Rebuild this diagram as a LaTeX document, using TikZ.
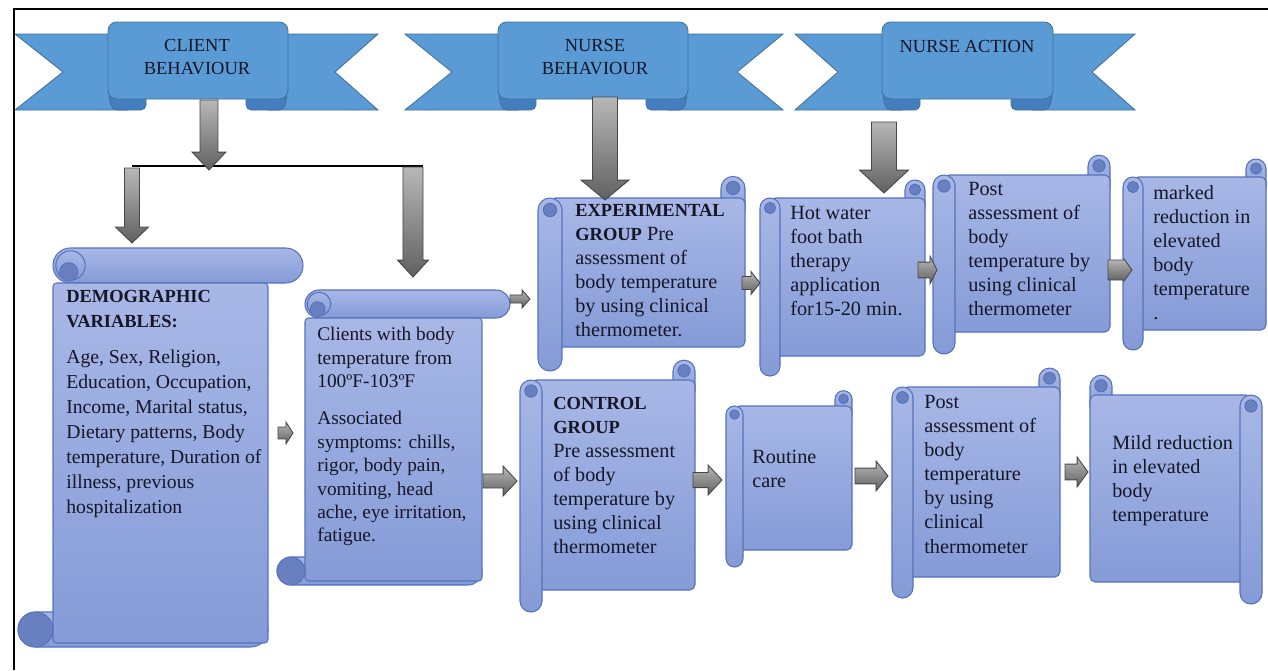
\documentclass[tikz,border=0pt]{standalone}
\usepackage{fontspec}
\setmainfont{Liberation Serif}
\usetikzlibrary{calc}

\definecolor{ribbonblue}{RGB}{91,155,213}
\definecolor{ribbonfold}{RGB}{68,126,190}
\definecolor{ribbonedge}{RGB}{65,113,156}
\definecolor{scrolltop}{RGB}{168,183,230}
\definecolor{scrollbot}{RGB}{133,155,215}
\definecolor{scrolledge}{RGB}{84,114,188}
\definecolor{curlfill}{RGB}{104,128,192}
\definecolor{ink}{RGB}{22,22,38}

\tikzset{
    scroll/.style={draw=scrolledge, line width=0.6pt, top color=scrolltop, bottom color=scrollbot},
    curl/.style={draw=scrolledge, line width=0.5pt, fill=curlfill},
    ribbon/.style={draw=ribbonedge, line width=0.5pt, fill=ribbonblue},
    fold/.style={draw=ribbonedge, line width=0.5pt, fill=ribbonfold},
    txt/.style={anchor=north west, align=left, inner sep=0pt, text=ink, font=\fontsize{11.5}{13.7}\selectfont},
    head/.style={align=center, inner sep=0pt, text=ink, font=\fontsize{10.5}{13}\selectfont},
    blockarrow/.style={draw=black!72, line width=0.5pt, top color=black!28, bottom color=black!62},
    rarr/.style n args={3}{blockarrow, to path={let \p1=(\tikztostart), \p2=(\tikztotarget) in
        (\x1,\y1+#1) -- (\x2-#3,\y1+#1) -- (\x2-#3,\y1+#2) -- (\x2,\y1) -- (\x2-#3,\y1-#2) -- (\x2-#3,\y1-#1) -- (\x1,\y1-#1) -- cycle}},
    darr/.style n args={3}{blockarrow, to path={let \p1=(\tikztostart), \p2=(\tikztotarget) in
        (\x1-#1,\y1) -- (\x1-#1,\y2+#3) -- (\x1-#2,\y2+#3) -- (\x1,\y2) -- (\x1+#2,\y2+#3) -- (\x1+#1,\y2+#3) -- (\x1+#1,\y1) -- cycle}}
}

% ribbon: left, left notch, panel left, panel right, right notch, right
\newcommand{\ribbon}[6]{%
  \path[ribbon] (#1,34) -- (#3+20,34) -- (#3+20,110) -- (#1,110) -- (#2,72) -- cycle;
  \path[ribbon] (#6,34) -- (#4-20,34) -- (#4-20,110) -- (#6,110) -- (#5,72) -- cycle;
  \path[fold, rounded corners=3pt] (#3,92) -- (#3+38,92) -- (#3+38,110) -- (#3+4,110) -- cycle;
  \path[fold, rounded corners=3pt] (#4,92) -- (#4-42,92) -- (#4-42,110) -- (#4-4,110) -- cycle;
  \path[ribbon, rounded corners=5pt] (#3,99) -- (#3,22) -- (#4,22) -- (#4,99) -- cycle;
}
% vertical scroll: left, top, right, bottom, band
\newcommand{\vscroll}[5]{%
  \pgfmathsetmacro{\rr}{#5*0.2835}
  \path[scroll, rounded corners=\rr pt] (#1,#2) rectangle (#3+#5,#2+#5);
  \path[scroll, rounded corners=\rr pt] (#1-#5,#4-#5) rectangle (#3,#4);
  \path[scroll, rounded corners=2pt] (#1,#2+#5) rectangle (#3,#4-4);
  \path[scroll] (#1+0.5*#5,#2+0.5*#5) circle (0.42*#5);
  \path[curl] (#1+0.45*#5,#2+0.68*#5) circle (0.26*#5);
  \path[curl] (#1-0.5*#5,#4-0.5*#5) circle (0.5*#5);
}
% horizontal scroll: left, top, right, bottom, roll
\newcommand{\hscroll}[5]{%
  \pgfmathsetmacro{\rr}{#5*0.2835}
  \path[scroll, rounded corners=\rr pt] (#3-#5,#2-0.9*#5) rectangle (#3,#2+#5);
  \path[scroll, rounded corners=3pt] (#1+0.5*#5,#2) rectangle (#3,#4);
  \path[scroll, rounded corners=\rr pt] (#1,#2) rectangle (#1+#5,#4+#5);
  \path[curl] (#3-0.5*#5,#2-0.42*#5) circle (0.28*#5);
  \path[curl] (#1+0.5*#5,#2+0.5*#5) circle (0.28*#5);
}
% same, roll on the right
\newcommand{\hscrollm}[5]{%
  \pgfmathsetmacro{\rr}{#5*0.2835}
  \path[scroll, rounded corners=\rr pt] (#1,#2-0.9*#5) rectangle (#1+#5,#2+#5);
  \path[scroll, rounded corners=3pt] (#1,#2) rectangle (#3-0.5*#5,#4);
  \path[scroll, rounded corners=\rr pt] (#3-#5,#2) rectangle (#3,#4+#5);
  \path[curl] (#1+0.5*#5,#2-0.42*#5) circle (0.28*#5);
  \path[curl] (#3-0.5*#5,#2+0.5*#5) circle (0.28*#5);
}
\newcommand{\caphead}[1]{{\fontsize{10.5}{13.7}\selectfont\bfseries #1}}

\begin{document}
\begin{tikzpicture}[x=0.02cm, y=-0.02cm]
\useasboundingbox (0,0) rectangle (1268,670);

% Frame
\draw[line width=0.8pt] (14,670) -- (14,9) -- (1268,9);

% Ribbons
\ribbon{15}{63}{108}{288}{335}{378}
\ribbon{405}{452}{498}{688}{737}{783}
\ribbon{795}{838}{882}{1053}{1092}{1135}

\node[head] (cb) at (197,57) {CLIENT\\BEHAVIOUR};
\node[head] (nb) at (595,57) {NURSE\\BEHAVIOUR};
\node[head] (na) at (967,46) {NURSE ACTION};

% Split line
\coordinate (brL) at (132,166);
\coordinate (brR) at (423,166);
\draw[line width=1.4pt] (brL) -- (brR);

% Scrolls
\vscroll{53}{248}{268}{647}{35}
\vscroll{305}{290}{482}{585}{28}
\hscroll{538}{198}{745}{347}{24}
\hscroll{760}{198}{925}{356}{20}
\hscroll{933}{175}{1110}{332}{22}
\hscroll{1123}{177}{1266}{330}{20}
\hscroll{520}{380}{695}{590}{22}
\hscroll{726}{406}{852}{550}{17}
\hscroll{892}{387}{1060}{577}{21}
\hscrollm{1090}{395}{1262}{582}{22}

% Texts
\node[txt, font=\fontsize{11.2}{14.2}\selectfont] (demo) at (66,290)
  {\caphead{DEMOGRAPHIC}\\\caphead{VARIABLES:}\\[6.5pt]
   Age, Sex, Religion,\\Education, Occupation,\\Income, Marital status,\\
   Dietary patterns, Body\\temperature, Duration of\\illness, previous\\hospitalization};
\node[txt, font=\fontsize{11}{13.3}\selectfont] (clients) at (317,327)
  {Clients with body\\temperature from\\100ºF-103ºF\\[8pt]
   Associated\\symptoms: chills,\\rigor, body pain,\\vomiting, head\\ache, eye irritation,\\fatigue.};
\node[txt] (expg) at (575,204)
  {\caphead{EXPERIMENTAL}\\\caphead{GROUP} Pre\\assessment of\\body temperature\\by using clinical\\thermometer.};
\node[txt] (hotw) at (790,206)
  {Hot water\\foot bath\\therapy\\application\\for15-20 min.};
\node[txt] (posta) at (968,182)
  {Post\\assessment of\\body\\temperature by\\using clinical\\thermometer};
\node[txt] (markd) at (1153,185)
  {marked\\reduction in\\elevated\\body\\temperature\\.};
\node[txt] (ctrl) at (553,397)
  {\caphead{CONTROL}\\\caphead{GROUP}\\Pre assessment\\of body\\temperature by\\using clinical\\thermometer};
\node[txt] (rout) at (752,450) {Routine\\care};
\node[txt] (postb) at (924,395)
  {Post\\assessment of\\body\\temperature\\by using\\clinical\\thermometer};
\node[txt] (mild) at (1112,435)
  {Mild reduction\\in elevated\\body\\temperature};

% Block arrows, down
\coordinate (cb-out) at (209,100);   \coordinate (br-in) at (209,170);
\coordinate (brL-out) at (132,168);  \coordinate (demo-in) at (132,243);
\coordinate (brR-out) at (413,167);  \coordinate (clients-in) at (413,277);
\coordinate (nb-out) at (605,97);    \coordinate (expg-in) at (605,200);
\coordinate (na-out) at (884,122);   \coordinate (hotw-in) at (884,193);
\path[darr={5.1pt}{9.6pt}{10.2pt}] (cb-out) to (br-in);
\path[darr={4.3pt}{9.4pt}{9.1pt}] (brL-out) to (demo-in);
\path[darr={5.7pt}{8.8pt}{9.6pt}] (brR-out) to (clients-in);
\path[darr={7.1pt}{13.6pt}{11.3pt}] (nb-out) to (expg-in);
\path[darr={7.1pt}{13.9pt}{13pt}] (na-out) to (hotw-in);

% Block arrows, right
\coordinate (demo-out) at (278,433);    \coordinate (clients-w) at (293,433);
\coordinate (clients-o1) at (510,299);  \coordinate (expg-w) at (530,299);
\coordinate (clients-o2) at (483,481);  \coordinate (ctrl-w) at (517,481);
\coordinate (expg-out) at (742,283);    \coordinate (hotw-w) at (760,283);
\coordinate (hotw-out) at (918,270);    \coordinate (posta-w) at (937,270);
\coordinate (posta-out) at (1108,270);  \coordinate (markd-w) at (1132,270);
\coordinate (ctrl-out) at (693,480);    \coordinate (rout-w) at (722,480);
\coordinate (rout-out) at (855,476);    \coordinate (postb-w) at (888,476);
\coordinate (postb-out) at (1065,472);  \coordinate (mild-w) at (1088,472);
\path[rarr={3.4pt}{6.2pt}{4pt}] (demo-out) to (clients-w);
\path[rarr={2.3pt}{5.1pt}{4.5pt}] (clients-o1) to (expg-w);
\path[rarr={4pt}{8.5pt}{7.9pt}] (clients-o2) to (ctrl-w);
\path[rarr={3.7pt}{6.5pt}{5.1pt}] (expg-out) to (hotw-w);
\path[rarr={4.5pt}{7.9pt}{4pt}] (hotw-out) to (posta-w);
\path[rarr={5.7pt}{6.2pt}{4.5pt}] (posta-out) to (markd-w);
\path[rarr={4.3pt}{8.5pt}{7.9pt}] (ctrl-out) to (rout-w);
\path[rarr={4.5pt}{8.5pt}{6.8pt}] (rout-out) to (postb-w);
\path[rarr={4.5pt}{8.5pt}{6.2pt}] (postb-out) to (mild-w);

\end{tikzpicture}
\end{document}
